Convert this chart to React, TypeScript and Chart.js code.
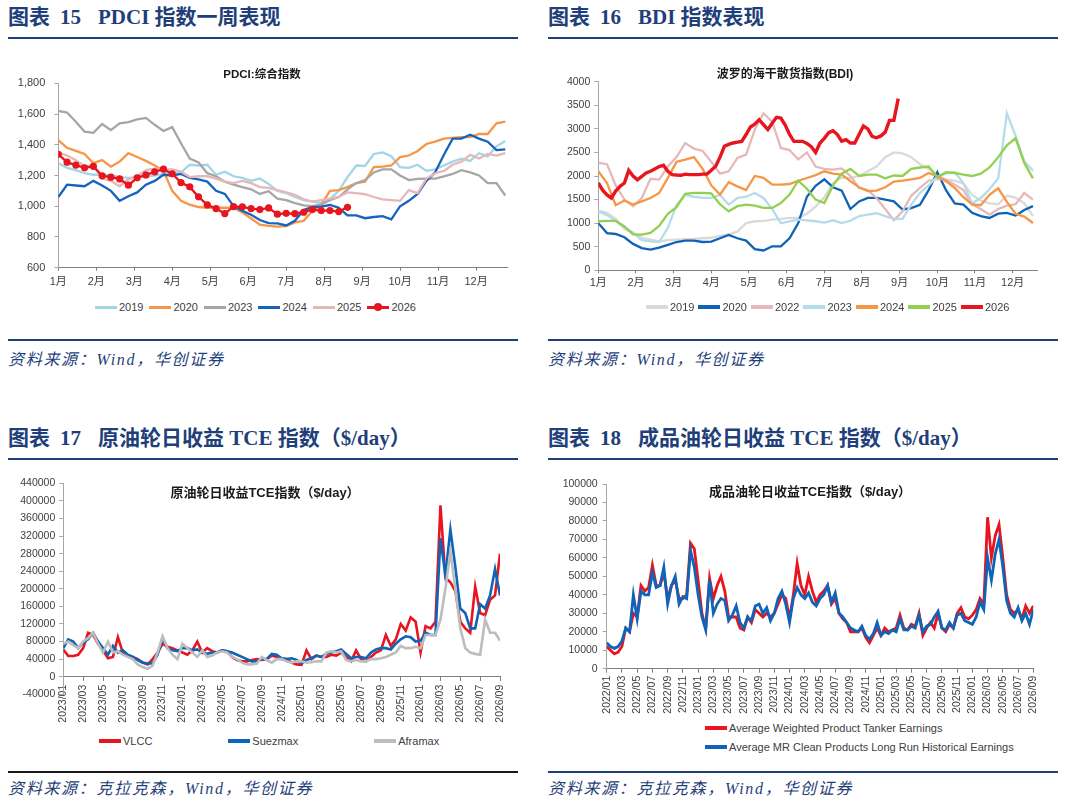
import React, { useEffect, useRef } from 'react';
import { Chart, registerables } from 'chart.js';

Chart.register(...registerables);

const SANS = '"Liberation Sans", "Noto Sans CJK SC", Arial, sans-serif';
const SERIF = '"Liberation Serif", "Noto Sans CJK SC", serif';
const NAVY = '#1F3F7A';
const TICK_COLOR = '#404040';

// ---------- Chart 15: PDCI weekly ----------
const monthLabels = ['1月', '2月', '3月', '4月', '5月', '6月', '7月', '8月', '9月', '10月', '11月', '12月'];
const pdciYears = ['2019', '2020', '2023', '2024', '2025', '2026'];
const pdciColors = ['#A3D5E8', '#F79646', '#A6A6A6', '#1563BF', '#E6B7B8', '#E8141E'];
const pdci2019 = [1280, 1250, 1235, 1215, 1205, 1205, 1200, 1190, 1185, 1190, 1195, 1200, 1210, 1215, 1220, 1270, 1265, 1270, 1205, 1225, 1195, 1185, 1165, 1180, 1145, 1100, 1085, 1060, 1040, 1030, 1020, 1045, 1100, 1190, 1265, 1262, 1340, 1350, 1325, 1255, 1250, 1270, 1230, 1240, 1265, 1290, 1310, 1295, 1345, 1325, 1390, 1425];
const pdci2020 = [1430, 1380, 1360, 1340, 1280, 1300, 1258, 1290, 1345, 1320, 1295, 1265, 1230, 1100, 1035, 1010, 995, 990, 990, 990, 990, 960, 920, 880, 872, 867, 870, 895, 905, 970, 1010, 1100, 1105, 1125, 1150, 1160, 1255, 1258, 1265, 1320, 1330, 1360, 1405, 1420, 1440, 1445, 1450, 1450, 1470, 1470, 1540, 1550];
const pdci2023 = [1620, 1610, 1550, 1485, 1478, 1535, 1495, 1540, 1548, 1565, 1575, 1530, 1490, 1515, 1410, 1310, 1285, 1215, 1195, 1160, 1140, 1125, 1110, 1080, 1098, 1050, 1040, 1020, 1005, 1000, 1010, 1040, 1060, 1110, 1150, 1170, 1220, 1240, 1240, 1200, 1170, 1178, 1180, 1180, 1195, 1210, 1235, 1220, 1200, 1150, 1150, 1070];
const pdci2024 = [1060, 1140, 1135, 1130, 1165, 1135, 1100, 1035, 1065, 1090, 1140, 1165, 1205, 1200, 1210, 1185, 1175, 1160, 1100, 1080, 1000, 970, 945, 910, 890, 888, 875, 905, 975, 995, 998, 1008, 990, 940, 940, 922, 930, 935, 915, 1000, 1035, 1080, 1165, 1220, 1335, 1440, 1440, 1465, 1440, 1420, 1365, 1370];
const pdci2025 = [1350, 1330, 1300, 1260, 1265, 1180, 1165, 1130, 1175, 1195, 1235, 1245, 1240, 1240, 1225, 1190, 1195, 1195, 1180, 1160, 1150, 1165, 1150, 1125, 1120, 1105, 1090, 1075, 1045, 1030, 1040, 1050, 1060, 1090, 1085, 1078, 1060, 1045, 1040, 1035, 1105, 1085, 1180, 1215, 1230, 1270, 1290, 1335, 1310, 1340, 1330, 1345];
const pdci2026 = [1338, 1287, 1268, 1250, 1260, 1198, 1189, 1178, 1137, 1185, 1204, 1224, 1241, 1211, 1154, 1126, 1061, 1009, 985, 952, 998, 996, 985, 978, 989, 948, 954, 952, 961, 978, 972, 972, 965, 993];
const pdciSeries = [pdci2019, pdci2020, pdci2023, pdci2024, pdci2025, pdci2026];

// ---------- Chart 16: BDI ----------
const bdiYears = ['2019', '2020', '2022', '2023', '2024', '2025', '2026'];
const bdiColors = ['#DADADA', '#0F62B5', '#E6B9B8', '#B4DCEA', '#F79646', '#92D050', '#E8141E'];
const bdi2019 = [1265, 1220, 1090, 880, 800, 690, 650, 615, 640, 650, 660, 665, 680, 690, 730, 760, 820, 1000, 1040, 1050, 1075, 1090, 1110, 1110, 1200, 1350, 1550, 1850, 1960, 1960, 2000, 2100, 2200, 2400, 2500, 2480, 2400, 2250, 2150, 2020, 1923, 1900, 1840, 1600, 1480, 1420, 1400, 1580, 1540, 1420, 1150];
const bdi2020 = [1000, 790, 770, 700, 560, 470, 440, 480, 540, 600, 630, 630, 600, 610, 680, 750, 680, 630, 450, 420, 509, 509, 680, 1000, 1560, 1790, 1930, 1760, 1690, 1300, 1460, 1534, 1534, 1500, 1463, 1290, 1320, 1390, 1700, 2080, 1700, 1420, 1393, 1220, 1150, 1110, 1200, 1216, 1160, 1280, 1360];
const bdi2022 = [2277, 2250, 1800, 1500, 1357, 1534, 1940, 1923, 2200, 2400, 2700, 2580, 2530, 2300, 2050, 2100, 2383, 2455, 2980, 3330, 3150, 2595, 2550, 2350, 2500, 2200, 2150, 2135, 2160, 2000, 1746, 1700, 1534, 1300, 1060, 1250, 1580, 1746, 1900, 1940, 1923, 1817, 1700, 1400, 1300, 1180, 1300, 1370, 1400, 1640, 1500];
const bdi2023 = [1251, 1170, 1050, 900, 800, 640, 615, 600, 900, 1390, 1600, 1560, 1534, 1534, 1600, 1393, 1534, 1560, 1640, 1534, 1300, 1000, 1040, 1075, 1060, 1040, 1010, 1060, 1000, 1050, 1150, 1181, 1210, 1150, 1090, 1090, 1393, 1640, 1800, 1990, 2050, 2080, 1850, 1420, 1534, 1720, 1950, 3330, 2850, 2312, 2110];
const bdi2024 = [2100, 1850, 1380, 1480, 1393, 1463, 1534, 1640, 1960, 2300, 2347, 2400, 2150, 1800, 1605, 1870, 1780, 1700, 2000, 1960, 1820, 1817, 1830, 1900, 1958, 2020, 2100, 2050, 2029, 1890, 1760, 1680, 1690, 1760, 1880, 1900, 1930, 1960, 2064, 1994, 1890, 1746, 1550, 1400, 1380, 1600, 1740, 1450, 1200, 1140, 1004];
const bdi2025 = [1040, 1050, 1050, 930, 760, 757, 792, 940, 1200, 1340, 1620, 1640, 1640, 1630, 1400, 1251, 1360, 1393, 1370, 1322, 1322, 1428, 1605, 1900, 1730, 1499, 1428, 1800, 2050, 2150, 2000, 2029, 2029, 1950, 2010, 2000, 2150, 2180, 2200, 1980, 2080, 2064, 2029, 2000, 2050, 2180, 2400, 2650, 2800, 2277, 1950];
const bdi2026 = [1852, 1700, 1600, 1534, 1680, 1780, 1850, 2120, 2000, 1920, 1990, 2064, 2100, 2150, 2200, 2227, 2100, 2030, 2020, 2015, 2040, 2030, 2030, 2030, 2040, 2040, 2120, 2205, 2400, 2630, 2670, 2700, 2720, 2735, 2880, 3040, 3100, 3195, 3090, 2985, 3120, 3245, 3230, 3080, 2880, 2735, 2735, 2735, 2690, 2620, 2500, 2700, 2800, 2920, 2960, 2880, 2740, 2770, 2700, 2700, 2880, 3060, 3000, 2840, 2810, 2850, 2930, 3180, 3180, 3640];
const bdiSeries = [bdi2019, bdi2020, bdi2022, bdi2023, bdi2024, bdi2025, bdi2026];
const bdiSteps = [1, 1, 1, 1, 1, 1, 0.5]; // weeks between samples

// ---------- Chart 17: crude tanker TCE (half-month samples from 2023/01) ----------
const crudeNames = ['VLCC', 'Suezmax', 'Aframax'];
const crudeColors = ['#E8141E', '#0E64B9', '#BDBDBD'];
const crudeTickLabels = ['2023/01', '2023/03', '2023/05', '2023/07', '2023/09', '2023/11', '2024/01', '2024/03', '2024/05', '2024/07', '2024/09', '2024/11', '2025/01', '2025/03', '2025/05', '2025/07', '2025/09', '2025/11', '2026/01', '2026/03', '2026/05', '2026/07', '2026/09'];
const vlcc = [62000, 47000, 47000, 50000, 65000, 100000, 95000, 75000, 60000, 42000, 45000, 90000, 55000, 48000, 45000, 40000, 32000, 28000, 40000, 55000, 75000, 68000, 65000, 60000, 55000, 50000, 60000, 80000, 55000, 65000, 58000, 55000, 60000, 58000, 45000, 38000, 35000, 35000, 38000, 40000, 38000, 40000, 48000, 45000, 40000, 40000, 32000, 28000, 27000, 60000, 40000, 48000, 45000, 45000, 50000, 48000, 55000, 45000, 35000, 60000, 40000, 35000, 45000, 55000, 60000, 95000, 70000, 85000, 120000, 105000, 135000, 125000, 55000, 115000, 110000, 125000, 390000, 225000, 215000, 195000, 125000, 110000, 100000, 205000, 145000, 140000, 175000, 185000, 280000];
const suezmax = [65000, 85000, 80000, 65000, 78000, 85000, 100000, 80000, 65000, 50000, 70000, 55000, 60000, 50000, 45000, 38000, 32000, 30000, 30000, 50000, 88000, 65000, 60000, 58000, 65000, 65000, 60000, 62000, 55000, 52000, 55000, 55000, 60000, 58000, 55000, 50000, 45000, 40000, 35000, 35000, 40000, 40000, 52000, 50000, 42000, 40000, 42000, 38000, 30000, 38000, 42000, 48000, 45000, 52000, 55000, 58000, 62000, 52000, 42000, 45000, 45000, 42000, 55000, 62000, 65000, 65000, 62000, 75000, 85000, 92000, 90000, 80000, 82000, 100000, 95000, 95000, 315000, 230000, 335000, 250000, 155000, 145000, 110000, 110000, 165000, 155000, 185000, 245000, 185000];
const aframax = [75000, 80000, 72000, 65000, 80000, 88000, 100000, 75000, 55000, 80000, 55000, 58000, 50000, 45000, 40000, 28000, 22000, 18000, 25000, 55000, 92000, 65000, 50000, 40000, 75000, 65000, 55000, 45000, 60000, 45000, 48000, 55000, 58000, 55000, 45000, 40000, 32000, 28000, 28000, 30000, 45000, 38000, 32000, 40000, 40000, 35000, 32000, 35000, 35000, 32000, 33000, 35000, 35000, 55000, 58000, 55000, 58000, 38000, 35000, 38000, 35000, 35000, 40000, 40000, 42000, 45000, 50000, 55000, 70000, 65000, 65000, 68000, 65000, 95000, 95000, 95000, 130000, 200000, 285000, 200000, 110000, 65000, 55000, 52000, 50000, 130000, 100000, 100000, 82000];
const crudeSeries = [vlcc, suezmax, aframax];

// ---------- Chart 18: product tanker TCE (half-month samples from 2022/01) ----------
const productNames = ['Average Weighted Product Tanker Earnings', 'Average MR Clean Products Long Run Historical Earnings'];
const productColors = ['#E8141E', '#0E64B9'];
const productTickLabels = ['2022/01', '2022/03', '2022/05', '2022/07', '2022/09', '2022/11', '2023/01', '2023/03', '2023/05', '2023/07', '2023/09', '2023/11', '2024/01', '2024/03', '2024/05', '2024/07', '2024/09', '2024/11', '2025/01', '2025/03', '2025/05', '2025/07', '2025/09', '2025/11', '2026/01', '2026/03', '2026/05', '2026/07', '2026/09'];
const weightedProduct = [12000, 10000, 8000, 9000, 12000, 22000, 20000, 30000, 28000, 45000, 42000, 44000, 56000, 45000, 45000, 52000, 38000, 45000, 48000, 38000, 38000, 40000, 68000, 65000, 48000, 30000, 22000, 49000, 38000, 45000, 50000, 42000, 28000, 28000, 28000, 22000, 21000, 28000, 25000, 32000, 30000, 28000, 30000, 28000, 30000, 35000, 40000, 38000, 27000, 40000, 57000, 45000, 40000, 50000, 42000, 36000, 40000, 42000, 45000, 35000, 38000, 30000, 27000, 25000, 20000, 20000, 20000, 22000, 17000, 14000, 18000, 22000, 18000, 22000, 20000, 21000, 22000, 29000, 22000, 21000, 24000, 23000, 30000, 18000, 22000, 25000, 22000, 30000, 22000, 20000, 24000, 22000, 30000, 33000, 28000, 27000, 29000, 32000, 38000, 35000, 82000, 60000, 72000, 78000, 60000, 40000, 32000, 30000, 32000, 27000, 34000, 30000, 34000];
const mrClean = [14000, 12000, 11000, 12000, 15000, 22000, 20000, 40000, 27000, 42000, 40000, 40000, 52000, 44000, 45000, 55000, 35000, 45000, 50000, 35000, 39000, 38000, 64000, 55000, 40000, 28000, 21000, 48000, 30000, 35000, 38000, 37000, 26000, 29000, 34000, 25000, 22000, 28000, 26000, 34000, 35000, 30000, 33000, 26000, 30000, 38000, 42000, 35000, 25000, 38000, 44000, 40000, 38000, 41000, 36000, 34000, 38000, 40000, 45000, 36000, 41000, 30000, 28000, 25000, 22000, 21000, 20000, 23000, 18000, 16000, 19000, 25000, 18000, 20000, 19000, 21000, 20000, 27000, 21000, 21000, 23000, 22000, 29000, 20000, 23000, 24000, 28000, 31000, 22000, 21000, 25000, 22000, 29000, 30000, 26000, 25000, 24000, 28000, 36000, 32000, 60000, 48000, 62000, 70000, 55000, 37000, 30000, 28000, 33000, 26000, 30000, 24000, 32000];
const productSeries = [weightedProduct, mrClean];

// ---------- helpers ----------
const toXY = (vals: number[], step: number) => vals.map((y, i) => ({ x: i * step, y }));
const monthStartWeeks = monthLabels.map((_, i) => (i * 52) / 12);
const withCommas = (v: number) => String(v).replace(/\B(?=(\d{3})+(?!\d))/g, ',');

const baseOptions = (padding: any) => ({
  responsive: false,
  animation: false as const,
  devicePixelRatio: 1,
  layout: { padding },
  plugins: { legend: { display: false }, title: { display: false }, tooltip: { enabled: false } },
  elements: { line: { tension: 0 }, point: { radius: 0 } },
});

const yAxis = (min: number, max: number, step: number, width: number, pad: number, size: number, fmt: (v: number) => string) => ({
  type: 'linear',
  min,
  max,
  ticks: { stepSize: step, padding: pad, color: TICK_COLOR, font: { family: SANS, size }, callback: (v: any) => fmt(Number(v)) },
  grid: { display: true, drawOnChartArea: false, drawTicks: true, tickLength: 4, color: '#A6A6A6' },
  border: { display: true, color: '#A6A6A6', width: 1 },
  afterFit: (s: any) => {
    s.width = width;
  },
});

const monthXAxis = (max: number, height: number, pad: number) => ({
  type: 'linear',
  min: 0,
  max,
  afterBuildTicks: (s: any) => {
    s.ticks = monthStartWeeks.map((v) => ({ value: v }));
  },
  ticks: { autoSkip: false, maxRotation: 0, padding: pad, color: TICK_COLOR, font: { family: SANS, size: 11 }, callback: (_v: any, i: number) => monthLabels[i] },
  grid: { display: true, drawOnChartArea: false, drawTicks: true, tickLength: 3, color: '#808080' },
  border: { display: true, color: '#808080', width: 1 },
  afterFit: (s: any) => {
    s.height = height;
  },
});

const makePdci = () => ({
  type: 'line',
  data: {
    datasets: pdciSeries.map((vals, k) => ({
      label: pdciYears[k],
      data: toXY(vals, 1),
      borderColor: pdciColors[k],
      backgroundColor: pdciColors[k],
      borderWidth: 2.3,
      pointRadius: k === 5 ? 3.6 : 0,
      pointBackgroundColor: pdciColors[k],
      pointBorderWidth: 0,
      order: k === 5 ? 0 : 6 - k,
    })),
  },
  options: {
    ...baseOptions({ top: 23.3, right: 11, left: 0, bottom: 0 }),
    scales: {
      x: monthXAxis(51.2, 32.3, 5),
      y: yAxis(600, 1800, 200, 50.3, 9, 11, withCommas),
    },
  },
});

const makeBdi = () => ({
  type: 'line',
  data: {
    datasets: bdiSeries.map((vals, k) => ({
      label: bdiYears[k],
      data: toXY(vals, bdiSteps[k]),
      borderColor: bdiColors[k],
      backgroundColor: bdiColors[k],
      borderWidth: k === 6 ? 3.4 : 2.3,
      pointRadius: 0,
      order: 7 - k,
    })),
  },
  options: {
    ...baseOptions({ top: 21.7, right: 20.7, left: 0, bottom: 0 }),
    scales: {
      x: monthXAxis(50.5, 29.7, 3),
      y: yAxis(0, 4000, 500, 86.3, 4, 10.5, (v) => String(v)),
    },
  },
});

const makeCrude = () => ({
  type: 'line',
  data: {
    datasets: crudeSeries.map((vals, k) => ({
      label: crudeNames[k],
      data: toXY(vals, 0.5),
      borderColor: crudeColors[k],
      backgroundColor: crudeColors[k],
      borderWidth: 2.6,
      pointRadius: 0,
      order: 2 - k,
    })),
  },
  options: {
    ...baseOptions({ top: 13.3, right: 18, left: 0, bottom: 33.7 }),
    scales: {
      x: {
        type: 'linear',
        min: 0,
        max: 44,
        position: { y: 0 },
        ticks: {
          stepSize: 2,
          autoSkip: false,
          minRotation: 90,
          maxRotation: 90,
          padding: 4,
          color: TICK_COLOR,
          font: { family: SANS, size: 10.5 },
          callback: (_v: any, i: number) => crudeTickLabels[i],
        },
        grid: { display: true, drawOnChartArea: false, drawTicks: true, tickLength: 4, color: '#808080' },
        border: { display: true, color: '#808080', width: 1 },
      },
      y: yAxis(-40000, 440000, 40000, 55.3, 4, 10.5, (v) => String(v)),
    },
  },
});

const makeProduct = () => ({
  type: 'line',
  data: {
    datasets: productSeries.map((vals, k) => ({
      label: productNames[k],
      data: toXY(vals, 0.5),
      borderColor: productColors[k],
      backgroundColor: productColors[k],
      borderWidth: 2.8,
      pointRadius: 0,
      order: 1 - k,
    })),
  },
  options: {
    ...baseOptions({ top: 14, right: 24.7, left: 0, bottom: 0 }),
    scales: {
      x: {
        type: 'linear',
        min: 0,
        max: 56,
        ticks: {
          stepSize: 2,
          autoSkip: false,
          minRotation: 90,
          maxRotation: 90,
          padding: 3,
          color: TICK_COLOR,
          font: { family: SANS, size: 10.5 },
          callback: (_v: any, i: number) => productTickLabels[i],
        },
        grid: { display: true, drawOnChartArea: false, drawTicks: true, tickLength: 4, color: '#808080' },
        border: { display: true, color: '#808080', width: 1 },
        afterFit: (s: any) => {
          s.height = 51.3;
        },
      },
      y: yAxis(0, 100000, 10000, 46.7, 5, 10.5, (v) => String(v)),
    },
  },
});

// ---------- components ----------
function ChartCanvas({ make, left, top, width, height }: { make: () => any; left: number; top: number; width: number; height: number }) {
  const ref = useRef<HTMLCanvasElement | null>(null);
  useEffect(() => {
    if (!ref.current) return;
    const chart = new Chart(ref.current, make());
    return () => chart.destroy();
  }, [make]);
  return <canvas ref={ref} width={width} height={height} style={{ position: 'absolute', left, top, width, height }} />;
}

function LegendItem({ color, label, thick = 3, lineW = 22, marker = false }: { color: string; label: string; thick?: number; lineW?: number; marker?: boolean }) {
  return (
    <div style={{ display: 'flex', alignItems: 'center', height: 14 }}>
      <div style={{ position: 'relative', width: lineW, height: thick, background: color }}>
        {marker && (
          <div style={{ position: 'absolute', left: lineW / 2 - 4, top: thick / 2 - 4, width: 8, height: 8, borderRadius: 4, background: color }} />
        )}
      </div>
      <span style={{ marginLeft: 2, fontSize: 11, color: TICK_COLOR, fontFamily: SANS, lineHeight: '14px', whiteSpace: 'nowrap' }}>{label}</span>
    </div>
  );
}

const abs = (left: number, top: number, extra: any = {}) => ({ position: 'absolute' as const, left, top, ...extra });

function Header({ left, top, num, parts }: { left: number; top: number; num: string; parts: string }) {
  return (
    <div style={abs(left, top, { fontFamily: SERIF, fontWeight: 700, fontSize: 21, color: NAVY, lineHeight: '24px', whiteSpace: 'pre' })}>
      <span>图表</span>
      <span style={{ marginLeft: 10 }}>{num}</span>
      <span style={{ marginLeft: 17 }}>{parts}</span>
    </div>
  );
}

function Rule({ left, top, color = NAVY }: { left: number; top: number; color?: string }) {
  return <div style={abs(left, top, { width: 510, height: 2, background: color })} />;
}

function Source({ left, top, text }: { left: number; top: number; text: string }) {
  return (
    <div style={abs(left, top, { fontFamily: SERIF, fontStyle: 'italic', fontSize: 16, letterSpacing: 1.7, color: NAVY, lineHeight: '20px', whiteSpace: 'pre' })}>
      {text}
    </div>
  );
}

function Title({ cx, cy, text, size }: { cx: number; cy: number; text: string; size: number }) {
  return (
    <div
      style={abs(cx, cy - 9, {
        transform: 'translateX(-50%)',
        fontFamily: SANS,
        fontWeight: 700,
        fontSize: size,
        color: '#1A1A1A',
        lineHeight: '18px',
        whiteSpace: 'nowrap',
      })}
    >
      {text}
    </div>
  );
}

export default function App() {
  return (
    <div style={{ position: 'absolute', left: 0, top: 0, width: 1066, height: 804, background: '#FFFFFF', overflow: 'hidden' }}>
      <Header left={8} top={5} num="15" parts="PDCI 指数一周表现" />
      <Header left={548} top={5} num="16" parts="BDI 指数表现" />
      <Rule left={8} top={37} />
      <Rule left={548} top={37} />

      <ChartCanvas make={makePdci} left={8} top={60} width={510} height={240} />
      <ChartCanvas make={makeBdi} left={512} top={60} width={546} height={240} />
      <Title cx={262} cy={74} text="PDCI:综合指数" size={11.5} />
      <Title cx={785} cy={74} text="波罗的海干散货指数(BDI)" size={12} />

      <div style={abs(95, 300, { display: 'flex', gap: 6 })}>
        {pdciYears.map((y, k) => (
          <LegendItem key={y} color={pdciColors[k]} label={y} marker={k === 5} />
        ))}
      </div>
      <div style={abs(646, 300, { display: 'flex', gap: 4 })}>
        {bdiYears.map((y, k) => (
          <LegendItem key={y} color={bdiColors[k]} label={y} thick={4} />
        ))}
      </div>

      <Rule left={8} top={339} />
      <Rule left={548} top={339} />
      <Source left={8} top={350} text="资料来源：Wind，华创证券" />
      <Source left={548} top={350} text="资料来源：Wind，华创证券" />

      <Header left={8} top={426} num="17" parts="原油轮日收益 TCE 指数（$/day）" />
      <Header left={548} top={426} num="18" parts="成品油轮日收益 TCE 指数（$/day）" />
      <Rule left={8} top={458} />
      <Rule left={548} top={458} />

      <ChartCanvas make={makeCrude} left={8} top={470} width={510} height={258} />
      <ChartCanvas make={makeProduct} left={560} top={470} width={498} height={250} />
      <Title cx={265} cy={493} text="原油轮日收益TCE指数（$/day）" size={13} />
      <Title cx={810} cy={492} text="成品油轮日收益TCE指数（$/day）" size={13} />

      <div style={abs(99, 734, { display: 'flex', gap: 76 })}>
        {crudeNames.map((n, k) => (
          <LegendItem key={n} color={crudeColors[k]} label={n} thick={4} />
        ))}
      </div>
      <div style={abs(705, 721, { display: 'flex', flexDirection: 'column', gap: 5 })}>
        {productNames.map((n, k) => (
          <LegendItem key={n} color={productColors[k]} label={n} thick={4} />
        ))}
      </div>

      <Rule left={8} top={771} color="#1A1A1A" />
      <Rule left={548} top={771} />
      <Source left={8} top={779} text="资料来源：克拉克森，Wind，华创证券" />
      <Source left={548} top={779} text="资料来源：克拉克森，Wind，华创证券" />
    </div>
  );
}
